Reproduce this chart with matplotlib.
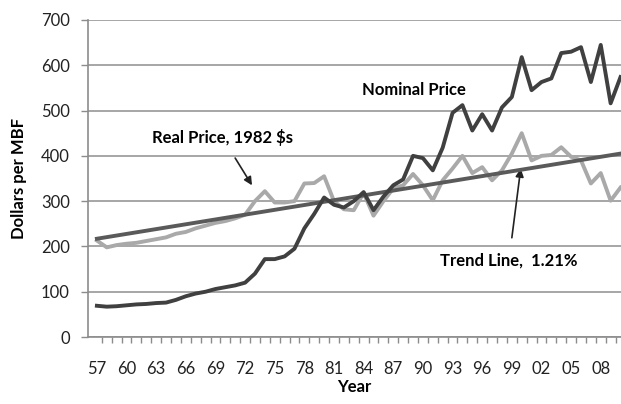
import matplotlib
import matplotlib.pyplot as plt
import numpy as np

matplotlib.use("Agg")

years = list(range(1957, 2011))

nominal_price = [
    69, 67, 68, 70, 72, 73, 75, 76, 82, 90,
    96, 100, 106, 110, 114, 120, 140, 172, 172, 178,
    195, 240, 272, 308, 292, 286, 300, 320, 280, 310,
    335, 348, 400, 395, 368, 418, 495, 512, 456, 492,
    456, 507, 530, 618, 545, 563, 571, 627, 630, 640,
    563, 645, 516, 574,
]

real_price = [
    213, 198, 203, 206, 208, 212, 216, 220, 228, 232,
    240, 246, 252, 256, 262, 270, 300, 322, 297, 297,
    300, 339, 340, 355, 300, 282, 280, 318, 268, 300,
    328, 335, 360, 335, 302, 346, 372, 400, 362, 375,
    346, 368, 405, 450, 390, 400, 402, 419, 398, 390,
    339, 362, 301, 330,
]

trend_ends = [217, 405]

tick_labels = [f"{y % 100:02d}" for y in years[::3]]

plt.rcParams["font.family"] = ["Lato", "DejaVu Sans"]

fig = plt.figure(figsize=(6.21, 4.04), dpi=100)
ax = fig.add_axes([0.1417, 0.1658, 0.8583, 0.7847])

x = np.arange(len(years))
ax.plot(x, real_price, color="#a9a9a9", linewidth=2.8, zorder=3)
ax.plot([x[0], x[-1]], trend_ends, color="#5a5a5a", linewidth=2.8, zorder=4)
ax.plot(x, nominal_price, color="#404040", linewidth=2.8, zorder=5)

ax.set_xlim(-0.9, len(years) - 0.95)
ax.set_ylim(0, 700)
ax.set_yticks(range(0, 701, 100))
ax.yaxis.grid(True, color="#a6a6a6", linewidth=1.4)
ax.set_axisbelow(True)

ax.set_xticks(x[::3])
ax.set_xticklabels(tick_labels)
ax.set_xticks(x[:-1] + 0.5, minor=True)
ax.tick_params(axis="x", which="major", length=0, pad=17, labelsize=12, labelcolor="#222222")
ax.tick_params(axis="x", which="minor", length=4, color="#8c8c8c", width=1)
ax.tick_params(axis="y", length=5, color="#8c8c8c", width=1, labelsize=12, labelcolor="#222222", pad=8)

for side in ["top", "right"]:
    ax.spines[side].set_visible(False)
for side in ["left", "bottom"]:
    ax.spines[side].set_color("#8c8c8c")
    ax.spines[side].set_linewidth(1.2)

ax.set_xlabel("Year", fontsize=12, fontweight="bold", labelpad=2)
ax.set_ylabel("Dollars per MBF", fontsize=12, fontweight="bold", labelpad=10)

ax.text(32.1, 545, "Nominal Price", fontsize=12, fontweight="bold", ha="center", va="center")
ax.annotate(
    "Real Price, 1982 $s",
    xy=(15.7, 335), xytext=(12.7, 441),
    fontsize=12, fontweight="bold", ha="center", va="center",
    arrowprops=dict(arrowstyle="-|>", color="#222222", lw=1.2, shrinkA=8, shrinkB=0),
)
ax.annotate(
    "Trend Line,  1.21%",
    xy=(42.9, 372), xytext=(41.7, 168),
    fontsize=12, fontweight="bold", ha="center", va="center",
    arrowprops=dict(arrowstyle="-|>", color="#222222", lw=1.2, shrinkA=9, shrinkB=0),
)

fig.savefig("out.png", dpi=100)
